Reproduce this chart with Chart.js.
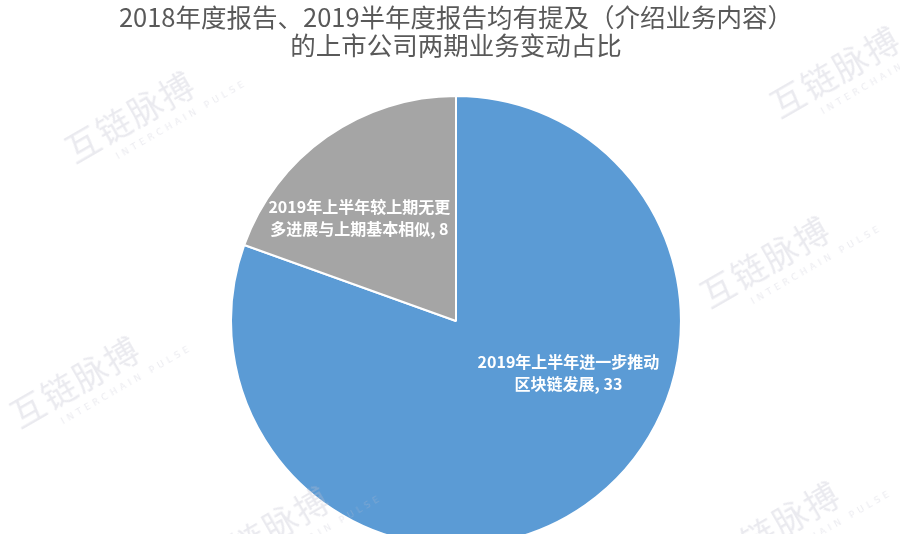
<!DOCTYPE html>
<html>
<head>
<meta charset="utf-8">
<script src="https://cdn.jsdelivr.net/npm/chart.js@4"></script>
<style>
  html, body { margin: 0; padding: 0; background: #fff; overflow: hidden; }
  #wrap { position: relative; width: 900px; height: 547px; }
  .wm {
    position: absolute; transform: rotate(-30deg); transform-origin: left top;
    color: rgba(190, 190, 205, 0.32); font-family: "Noto Sans CJK SC"; pointer-events: none;
    white-space: nowrap;
  }
  .wm b { font-size: 34px; font-weight: 400; letter-spacing: 2px; }
  .wm i { display: block; font-style: normal; font-family: "DejaVu Sans"; font-size: 9px; letter-spacing: 4px; margin-left: 40px; }
</style>
</head>
<body>
<div id="wrap">
  <canvas id="chart"></canvas>
</div>
<script>
const titleLines = ["2018年度报告、2019半年度报告均有提及（介绍业务内容）", "的上市公司两期业务变动占比"]
const categories = ["2019年上半年进一步推动区块链发展", "2019年上半年较上期无更多进展与上期基本相似"]
const values = [33, 8]
const labelLines = [
    ["2019年上半年进一步推动", "区块链发展, 33"],
    ["2019年上半年较上期无更", "多进展与上期基本相似, 8"]
]
const colors = ["#5b9bd5", "#a5a5a5"]

// where each label sits, as a fraction of radius from the pie centre
const labelSpots = [[0.50, 0.23], [-0.43, -0.46]]

const sliceLabels = {
    id: "sliceLabels",
    afterDatasetsDraw(chart) {
        const ctx = chart.ctx
        const arcs = chart.getDatasetMeta(0).data
        ctx.save()
        ctx.fillStyle = "#ffffff"
        ctx.font = "bold 16px 'Noto Sans CJK SC'"
        ctx.textAlign = "center"
        ctx.textBaseline = "middle"
        arcs.forEach((arc, i) => {
            const x = arc.x + labelSpots[i][0] * arc.outerRadius
            const y = arc.y + labelSpots[i][1] * arc.outerRadius
            labelLines[i].forEach((t, j) => {
                ctx.fillText(t, x, y + (j - 0.5) * 22)
            })
        })
        ctx.restore()
    }
}

const ctx = document.getElementById("chart").getContext("2d")

new Chart(ctx, {
    type: "pie",
    data: {
        labels: categories,
        datasets: [{
            data: values,
            backgroundColor: colors,
            borderColor: "#ffffff",
            borderWidth: 2
        }]
    },
    options: {
        responsive: true,
        maintainAspectRatio: false,
        animation: false,
        layout: { padding: { left: 12, right: 0, top: 0, bottom: 0 } },
        plugins: {
            legend: { display: false },
            tooltip: { enabled: false },
            title: {
                display: true,
                text: titleLines,
                color: "#595959",
                font: { family: "'Noto Sans CJK SC'", size: 25.5, weight: "normal", lineHeight: 1.1 },
                padding: { top: 3, bottom: 36 }
            }
        }
    },
    plugins: [sliceLabels]
})

// faint watermark logos
const marks = [[55, 130], [760, 85], [690, 275], [0, 395], [190, 545], [700, 540]]
const wrap = document.getElementById("wrap")
marks.forEach(m => {
    const d = document.createElement("div")
    d.className = "wm"
    d.style.left = m[0] + "px"
    d.style.top = m[1] + "px"
    d.innerHTML = "<b>互链脉搏</b><i>INTERCHAIN PULSE</i>"
    wrap.appendChild(d)
})
</script>
</body>
</html>
